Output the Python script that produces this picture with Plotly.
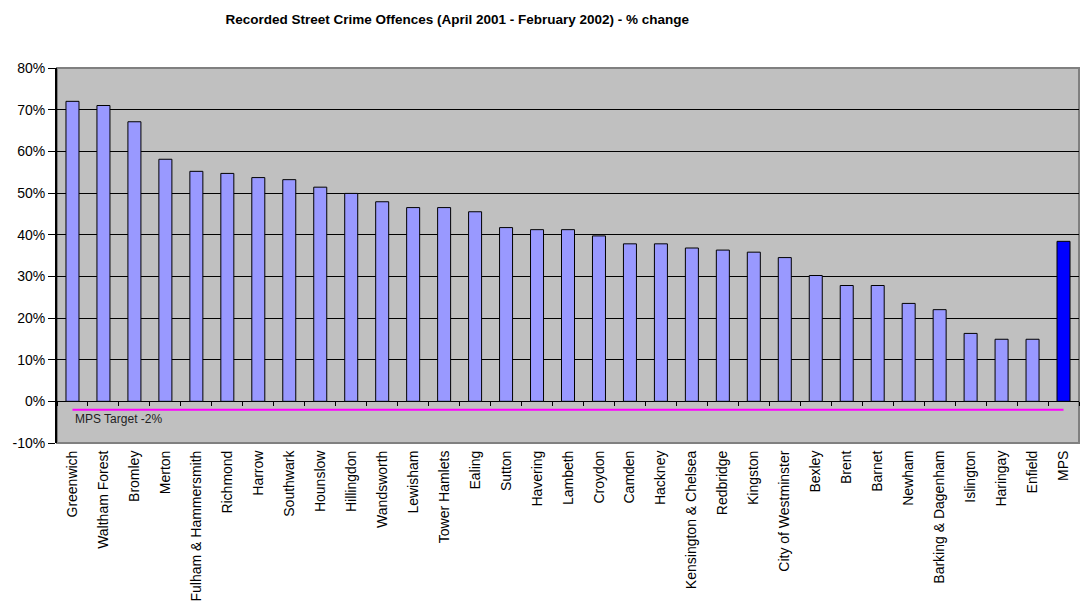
import plotly.graph_objects as go

boroughs = ["Greenwich", "Waltham Forest", "Bromley", "Merton", "Fulham & Hammersmith",
            "Richmond", "Harrow", "Southwark", "Hounslow", "Hillingdon", "Wandsworth",
            "Lewisham", "Tower Hamlets", "Ealing", "Sutton", "Havering", "Lambeth",
            "Croydon", "Camden", "Hackney", "Kensington & Chelsea", "Redbridge", "Kingston",
            "City of Westminster", "Bexley", "Brent", "Barnet", "Newham",
            "Barking & Dagenham", "Islington", "Haringay", "Enfield", "MPS"]
pct_change = [72.0, 71.0, 67.1, 58.1, 55.2, 54.7, 53.7, 53.2, 51.4, 49.9, 47.9,
              46.5, 46.5, 45.5, 41.7, 41.2, 41.2, 39.7, 37.8, 37.8, 36.8, 36.3, 35.8,
              34.5, 30.2, 27.8, 27.8, 23.5, 22.0, 16.3, 14.9, 14.9, 38.4]
target_label = "MPS Target -2%"
target_value = -2
y_ticks = [-10, 0, 10, 20, 30, 40, 50, 60, 70, 80]
title = "Recorded Street Crime Offences (April 2001 - February 2002) - % change"

bar_colors = ["#0000FF" if b == "MPS" else "#9999FF" for b in boroughs]
n = len(boroughs)
FONT = "Liberation Sans, Arial, sans-serif"

fig = go.Figure()
fig.add_trace(go.Bar(
    x=boroughs, y=pct_change, width=0.42,
    marker=dict(color=bar_colors, line=dict(color="black", width=1)),
    showlegend=False, hoverinfo="x+y"))
fig.add_trace(go.Scatter(
    x=boroughs, y=[target_value] * n, mode="lines",
    line=dict(color="#FF00FF", width=2), xaxis="x2", yaxis="y",
    showlegend=False, hoverinfo="skip"))

fig.add_annotation(x=boroughs[0], y=target_value, xref="x", yref="y",
                   text=target_label, showarrow=False, xanchor="left", yanchor="top",
                   xshift=1, yshift=0,
                   font=dict(family=FONT, size=12, color="#222222"))

ymin, ymax = -10, 80
fig.update_layout(
    width=1081, height=613,
    margin=dict(l=57, r=2, t=68, b=170),
    paper_bgcolor="white", plot_bgcolor="#C0C0C0",
    font=dict(family=FONT, size=14, color="black"),
    title=dict(text="<b>" + title + "</b>", x=0.423, xanchor="center", y=0.968,
               yanchor="middle", font=dict(family=FONT, size=13.5, color="black")),
    xaxis=dict(type="category", categoryorder="array", categoryarray=boroughs,
               range=[-0.5, n - 0.5], tickangle=-90, ticks="outside", ticklen=1,
               tickcolor="rgba(0,0,0,0)", showgrid=False,
               showline=False, zeroline=False, tickfont=dict(family=FONT, size=14)),
    xaxis2=dict(type="category", categoryorder="array", categoryarray=boroughs,
                overlaying="x", anchor="free", position=(0 - ymin) / (ymax - ymin),
                range=[-0.5, n - 0.5], showticklabels=False, ticks="outside",
                tickson="boundaries", ticklen=4, tickcolor="black", tickwidth=1,
                showgrid=False, showline=False, zeroline=False),
    yaxis=dict(range=[ymin, ymax], tickvals=y_ticks,
               ticktext=[f"{v}%" for v in y_ticks], ticks="outside", ticklen=7,
               tickcolor="black", showline=True, linecolor="black", linewidth=2,
               gridcolor="black", gridwidth=1, zeroline=False,
               tickfont=dict(family=FONT, size=14)),
)
fig.add_shape(type="rect", xref="paper", yref="paper", x0=0, x1=1, y0=0, y1=1,
              line=dict(color="#808080", width=2), layer="below")

fig.write_html("out.html", config={"displayModeBar": False},
               post_script="document.body.style.margin='0';")
